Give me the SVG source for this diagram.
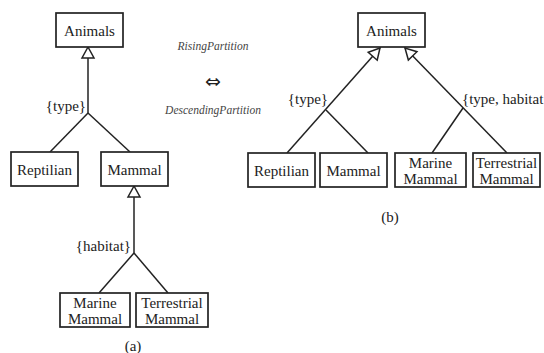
<svg xmlns="http://www.w3.org/2000/svg" width="544" height="353" viewBox="0 0 544 353">
<style>
text{font-family:"Liberation Serif","Times New Roman","DejaVu Serif",serif}
.box{fill:#fff;stroke:#222;stroke-width:1.7}
.t{font-size:15px;fill:#222;text-anchor:middle}
.lbl{font-size:15px;fill:#222}
.it{font-size:11.5px;font-style:italic;fill:#444;text-anchor:middle}
.c{stroke:#222;stroke-width:1.5;fill:none}
</style>
<defs>
<marker id="gen" markerUnits="userSpaceOnUse" markerWidth="16" markerHeight="16" viewBox="-13 -8 16 16" refX="0" refY="0" orient="auto">
<path d="M0,0 L-11,-6 L-11,6 z" fill="#fff" stroke="#222" stroke-width="1.5"/>
</marker>
</defs>
<rect width="544" height="353" fill="#fff"/>
<g id="connectors">
<line class="c" x1="88" y1="113" x2="88" y2="47" marker-end="url(#gen)"/>
<line class="c" x1="88" y1="113" x2="50" y2="152"/>
<line class="c" x1="88" y1="113" x2="130" y2="152"/>
<line class="c" x1="134" y1="253" x2="134" y2="186" marker-end="url(#gen)"/>
<line class="c" x1="134" y1="253" x2="99" y2="293"/>
<line class="c" x1="134" y1="253" x2="168" y2="293"/>
<line class="c" x1="287" y1="153" x2="380" y2="48" marker-end="url(#gen)"/>
<line class="c" x1="326" y1="110" x2="368" y2="153"/>
<line class="c" x1="507" y1="153" x2="405" y2="48" marker-end="url(#gen)"/>
<line class="c" x1="463" y1="108" x2="432" y2="153"/>
</g>
<g id="a-animals"><rect class="box" x="56" y="13" width="67" height="34"/><text class="t" x="89.5" y="35.5">Animals</text></g>
<g id="a-reptilian"><rect class="box" x="11" y="152" width="67" height="34"/><text class="t" x="44.5" y="174.5">Reptilian</text></g>
<g id="a-mammal"><rect class="box" x="101" y="152" width="67" height="34"/><text class="t" x="134.5" y="174.5">Mammal</text></g>
<g id="a-marine"><rect class="box" x="60" y="293" width="70" height="34"/><text class="t" x="95" y="308">Marine</text><text class="t" x="95" y="324">Mammal</text></g>
<g id="a-terrestrial"><rect class="box" x="136" y="293" width="72" height="34"/><text class="t" x="172" y="308">Terrestrial</text><text class="t" x="172" y="324">Mammal</text></g>
<g id="a-labels">
<text class="lbl" x="86" y="111" text-anchor="end">{type}</text>
<text class="lbl" x="131" y="251" text-anchor="end">{habitat}</text>
<text class="t" x="133" y="351">(a)</text>
</g>
<g id="middle">
<text class="it" x="213" y="50">RisingPartition</text>
<text x="213" y="88" style="font-family:'DejaVu Sans',sans-serif;font-size:19px;fill:#222;text-anchor:middle">⇔</text>
<text class="it" x="213" y="114">DescendingPartition</text>
</g>
<g id="b-animals"><rect class="box" x="358" y="13" width="67" height="34"/><text class="t" x="391.5" y="35.5">Animals</text></g>
<g id="b-reptilian"><rect class="box" x="248" y="153" width="67" height="34"/><text class="t" x="281.5" y="175.5">Reptilian</text></g>
<g id="b-mammal"><rect class="box" x="320" y="153" width="67" height="34"/><text class="t" x="353.5" y="175.5">Mammal</text></g>
<g id="b-marine"><rect class="box" x="395" y="153" width="71" height="34"/><text class="t" x="430.5" y="167.5">Marine</text><text class="t" x="430.5" y="183.5">Mammal</text></g>
<g id="b-terrestrial"><rect class="box" x="473" y="153" width="67" height="34"/><text class="t" x="506.5" y="167.5">Terrestrial</text><text class="t" x="506.5" y="183.5">Mammal</text></g>
<g id="b-labels">
<text class="lbl" x="328" y="104" text-anchor="end">{type}</text>
<text class="lbl" x="462" y="104">{type, habitat</text>
<text class="t" x="390" y="222">(b)</text>
</g>
</svg>
